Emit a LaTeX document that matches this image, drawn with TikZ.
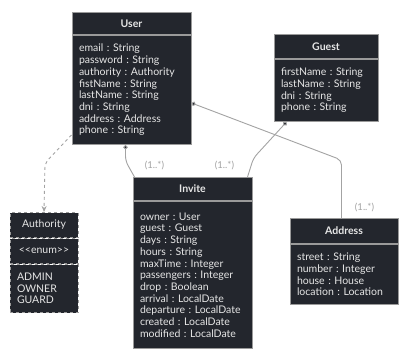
\documentclass[tikz,border=0pt]{standalone}
\usepackage{fontspec}
\setmainfont{Lato}
\usetikzlibrary{positioning,arrows.meta}

\definecolor{boxfill}{HTML}{23262D}
\definecolor{boxline}{HTML}{9A9A9A}
\definecolor{boxtext}{HTML}{E6E6E6}
\definecolor{linkgray}{HTML}{A3A3A3}

\frenchspacing

\tikzset{
  classhead/.style={draw=boxline, fill=boxfill, text=boxtext, line width=1pt,
    inner sep=0pt, anchor=north, font=\fontsize{10.5}{12}\selectfont\bfseries},
  classbody/.style={draw=boxline, fill=boxfill, text=boxtext, line width=1pt,
    inner xsep=7pt, inner ysep=0pt, align=left,
    font=\fontsize{10.5}{11.7}\selectfont},
  link/.style={draw=linkgray, line width=0.9pt, rounded corners=5pt},
  owner/.style={{Circle[length=4.5pt,fill=boxfill]}-},
  mult/.style={text=linkgray, font=\fontsize{9.5}{10}\selectfont, inner sep=0pt},
}

\begin{document}
\begin{tikzpicture}[x=1pt, y=-1pt]
  \useasboundingbox[fill=white] (0,0) rectangle (409,356);

  % User
  \node[classhead, minimum width=119pt, minimum height=22pt] (user) at (131.5,12) {User};
  \node[classbody, below=0pt of user, text width=105pt, minimum height=109pt] (userbody)
    {email : String\\password : String\\authority : Authority\\fistName : String\\
     lastName : String\\dni : String\\address : Address\\phone : String};

  % Guest
  \node[classhead, minimum width=104pt, minimum height=24pt] (guest) at (326,34) {Guest};
  \node[classbody, below=0pt of guest, text width=90pt, minimum height=62pt] (guestbody)
    {firstName : String\\lastName : String\\dni : String\\phone : String};

  % Authority (enum)
  \node[classhead, dashed, font=\fontsize{10.5}{12}\selectfont,
    minimum width=68pt, minimum height=25pt] (authority) at (44,212) {Authority};
  \node[classhead, dashed, font=\fontsize{10.5}{12}\selectfont,
    minimum width=68pt, minimum height=25pt, below=0pt of authority] (authoritystereo)
    {<{}<enum>{}>};
  \node[classbody, dashed, below=0pt of authoritystereo, text width=54pt,
    minimum height=48pt] (authoritybody) {ADMIN\\OWNER\\GUARD};

  % Invite
  \node[classhead, minimum width=119pt, minimum height=23pt] (invite) at (192.5,177) {Invite};
  \node[classbody, below=0pt of invite, text width=105pt, minimum height=147pt] (invitebody)
    {owner : User\\guest : Guest\\days : String\\hours : String\\maxTime : Integer\\
     passengers : Integer\\drop : Boolean\\arrival : LocalDate\\departure : LocalDate\\
     created : LocalDate\\modified : LocalDate};

  % Address
  \node[classhead, minimum width=108pt, minimum height=25pt] (address) at (344,218) {Address};
  \node[classbody, below=0pt of address, text width=94pt, minimum height=60pt] (addressbody)
    {street : String\\number : Integer\\house : House\\location : Location};

  % dependency on the enum
  \draw[link, dashed, -{Stealth[length=6pt,width=5pt]}]
    ([yshift=-45pt]userbody.west) -- (45,163) -- (authority.north);

  % associations
  \draw[link, owner] ([xshift=54pt]userbody.south west) -- ++(0,16)
    -- ([xshift=2pt]invite.north west);
  \draw[link, owner] ([xshift=13pt]guestbody.south west)
    -- ([xshift=1pt,yshift=19pt]invite.north east) -- ([xshift=-5pt]invite.north east);
  \draw[link, owner] ([yshift=-13pt]userbody.east)
    -- ([xshift=52pt,yshift=58pt]address.north west) -- ([xshift=52pt]address.north west);

  % multiplicities
  \node[mult] at ([xshift=22pt,yshift=11pt]invite.north west) {(1..*)};
  \node[mult] at ([xshift=-28pt,yshift=11pt]invite.north east) {(1..*)};
  \node[mult] at ([xshift=75pt,yshift=10pt]address.north west) {(1..*)};
\end{tikzpicture}
\end{document}
